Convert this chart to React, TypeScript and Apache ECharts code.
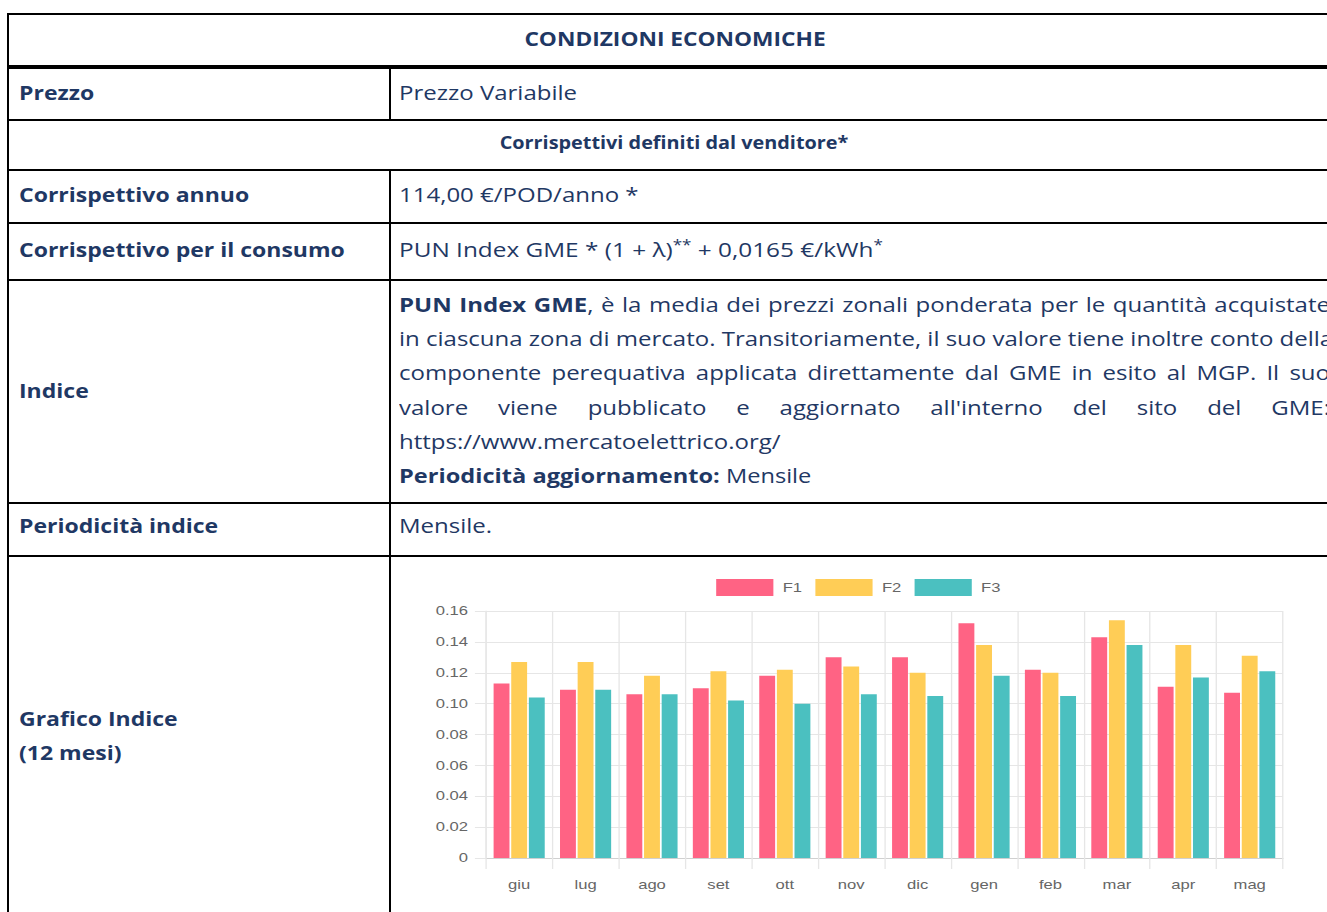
import React, { useEffect, useRef } from "react";
import * as echarts from "echarts";

const categories = ["giu", "lug", "ago", "set", "ott", "nov", "dic", "gen", "feb", "mar", "apr", "mag"];
const seriesNames = ["F1", "F2", "F3"];
const f1Values = [0.113, 0.109, 0.106, 0.110, 0.118, 0.130, 0.130, 0.152, 0.122, 0.143, 0.111, 0.107];
const f2Values = [0.127, 0.127, 0.118, 0.121, 0.122, 0.124, 0.120, 0.138, 0.120, 0.154, 0.138, 0.131];
const f3Values = [0.104, 0.109, 0.106, 0.102, 0.100, 0.106, 0.105, 0.118, 0.105, 0.138, 0.117, 0.121];
const seriesColors = ["#ff6384", "#ffcd56", "#4bc0c0"];

const TEXT = "#1F3864";
const FONT = "'Open Sans', 'Noto Sans', sans-serif";
const FS = 20;
const SB = 1.15; // horizontal stretch bold
const SR = 1.2; // horizontal stretch regular
const CHART_SX = 1.33;

function Chart() {
  const ref = useRef<HTMLDivElement>(null);
  useEffect(() => {
    if (!ref.current) return;
    const chart = echarts.init(ref.current, undefined, { renderer: "svg" });
    const grid = "#e6e6e6";
    chart.setOption({
      animation: false,
      textStyle: { fontFamily: "'Liberation Sans', Arial, sans-serif" },
      legend: {
        left: 239.5,
        top: 17,
        itemWidth: 43,
        itemHeight: 17,
        itemGap: 10,
        icon: "rect",
        textStyle: { color: "#666", fontSize: 12.5, padding: [0, 0, 0, 2] },
        data: seriesNames,
      },
      grid: { left: 71.4, top: 54, width: 599.2, height: 247 },
      xAxis: {
        type: "category",
        data: categories,
        axisLine: { show: true, lineStyle: { color: "#d0d0d0" } },
        axisTick: { show: true, length: 11, lineStyle: { color: grid } },
        splitLine: { show: true, lineStyle: { color: grid } },
        axisLabel: { color: "#666", fontSize: 12.5, margin: 20 },
      },
      yAxis: {
        type: "value",
        min: 0,
        max: 0.16,
        interval: 0.02,
        axisLine: { show: true, lineStyle: { color: grid } },
        axisTick: { show: true, length: 8.3, lineStyle: { color: grid } },
        splitLine: { show: true, lineStyle: { color: grid } },
        axisLabel: {
          color: "#666",
          fontSize: 12.5,
          margin: 13.5,
          formatter: (v: number) => (v === 0 ? "0" : v.toFixed(2)),
        },
      },
      series: [f1Values, f2Values, f3Values].map((d, i) => ({
        name: seriesNames[i],
        type: "bar",
        data: d,
        barGap: "11%",
        barCategoryGap: "23%",
        itemStyle: { color: seriesColors[i] },
      })),
    });
    return () => chart.dispose();
  }, []);
  return (
    <div style={{ position: "absolute", left: 391, top: 557, width: 936, height: 355, overflow: "hidden" }}>
      <div
        ref={ref}
        style={{ width: 704, height: 355, transform: `scaleX(${CHART_SX})`, transformOrigin: "0 0" }}
      />
    </div>
  );
}

type TItem = {
  x: number;
  base: number;
  content: React.ReactNode;
  bold?: boolean;
  size?: number;
  center?: boolean;
  s?: number;
};

function T({ x, base, content, bold, size = FS, center, s }: TItem) {
  const sc = s ?? (bold ? SB : SR);
  const lh = size * 1.362;
  return (
    <div
      style={{
        position: "absolute",
        left: x,
        top: base - size * 1.069,
        fontFamily: FONT,
        fontSize: size,
        lineHeight: `${lh}px`,
        fontWeight: bold ? 700 : 400,
        color: TEXT,
        whiteSpace: "nowrap",
        transform: center ? `translateX(-50%) scaleX(${sc})` : `scaleX(${sc})`,
        transformOrigin: center ? "50% 50%" : "0 50%",
      }}
    >
      {content}
    </div>
  );
}

function HLine({ y, h = 2, x1 = 7, x2 = 1341 }: { y: number; h?: number; x1?: number; x2?: number }) {
  return <div style={{ position: "absolute", left: x1, top: y, width: x2 - x1, height: h, background: "#000" }} />;
}
function VLine({ x, y1, y2, w = 2 }: { x: number; y1: number; y2: number; w?: number }) {
  return <div style={{ position: "absolute", left: x, top: y1, width: w, height: y2 - y1, background: "#000" }} />;
}

const paraLines: { content: React.ReactNode; justify: boolean }[] = [
  { content: <><b>PUN Index GME</b>, è la media dei prezzi zonali ponderata per le quantità acquistate</>, justify: true },
  { content: <>in ciascuna zona di mercato. Transitoriamente, il suo valore tiene inoltre conto della</>, justify: true },
  { content: <>componente perequativa applicata direttamente dal GME in esito al MGP. Il suo</>, justify: true },
  { content: <>valore viene pubblicato e aggiornato all'interno del sito del GME:</>, justify: true },
  { content: <>https://www.mercatoelettrico.org/</>, justify: false },
  { content: <><b>Periodicità aggiornamento:</b> Mensile</>, justify: false },
];

const supStyle: React.CSSProperties = { fontSize: "0.7em", verticalAlign: "0.5em", lineHeight: 0 };

export default function App() {
  const paraW = 931;
  return (
    <div
      style={{
        position: "fixed",
        left: 0,
        top: 0,
        width: 1327,
        height: 912,
        overflow: "hidden",
        background: "#fff",
      }}
    >
      <HLine y={13} />
      <HLine y={65} h={4} />
      <HLine y={119} />
      <HLine y={169} />
      <HLine y={222} />
      <HLine y={279} />
      <HLine y={502} />
      <HLine y={555} />
      <VLine x={7} y1={13} y2={912} />
      <VLine x={389} y1={65} y2={121} />
      <VLine x={389} y1={169} y2={912} />

      <T x={674.5} base={47} content="CONDIZIONI ECONOMICHE" bold center size={19} s={1.195} />
      <T x={19} base={100} content="Prezzo" bold />
      <T x={399} base={100} content="Prezzo Variabile" />
      <T x={673.5} base={149} content="Corrispettivi definiti dal venditore*" bold center size={17} s={1.167} />
      <T x={19} base={202} content="Corrispettivo annuo" bold />
      <T x={399} base={202} content="114,00 €/POD/anno *" />
      <T x={19} base={257} content="Corrispettivo per il consumo" bold />
      <T
        x={399}
        base={257}
        s={1.218}
        content={
          <>
            PUN Index GME * (1 + λ)<sup style={supStyle}>**</sup> + 0,0165 €/kWh<sup style={supStyle}>*</sup>
          </>
        }
      />
      <T x={19} base={398} content="Indice" bold />
      {paraLines.map((l, i) => (
        <div
          key={i}
          style={{
            position: "absolute",
            left: 399,
            top: 312 + i * 34.3 - FS * 1.069,
            width: paraW / SR,
            fontFamily: FONT,
            fontSize: FS,
            lineHeight: `${FS * 1.362}px`,
            color: TEXT,
            whiteSpace: "nowrap",
            textAlign: l.justify ? "justify" : "left",
            textAlignLast: l.justify ? "justify" : "left",
            transform: `scaleX(${i === 5 ? 1.18 : SR})`,
            transformOrigin: "0 50%",
          }}
        >
          {l.content}
        </div>
      ))}
      <T x={19} base={533} content="Periodicità indice" bold />
      <T x={399} base={533} content="Mensile." />
      <T x={19} base={726} content="Grafico Indice" bold />
      <T x={19} base={760} content="(12 mesi)" bold />
      <Chart />
    </div>
  );
}
